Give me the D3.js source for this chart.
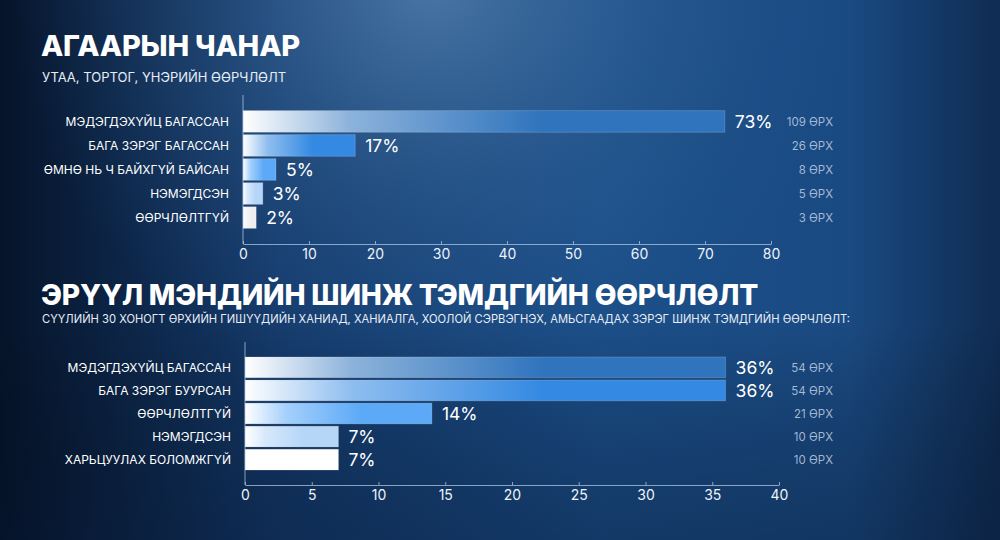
<!DOCTYPE html>
<html>
<head>
<meta charset="utf-8">
<script src="https://cdn.jsdelivr.net/npm/d3@7/dist/d3.min.js"></script>
<style>
  html, body { margin: 0; padding: 0; background: #0b2445; }
  svg { display: block; font-family: Inter, "Noto Sans", sans-serif; }
</style>
</head>
<body>
<svg id="chart" width="1000" height="540"></svg>
<script>
// ---- Data ----
const airTitle = "АГААРЫН ЧАНАР";
const airSubtitle = "УТАА, ТОРТОГ, ҮНЭРИЙН ӨӨРЧЛӨЛТ";
const airCategories = ["МЭДЭГДЭХҮЙЦ БАГАССАН", "БАГА ЗЭРЭГ БАГАССАН", "ӨМНӨ НЬ Ч БАЙХГҮЙ БАЙСАН", "НЭМЭГДСЭН", "ӨӨРЧЛӨЛТГҮЙ"];
const airValues = [73, 17, 5, 3, 2];
const airCounts = [109, 26, 8, 5, 3];
const airTicks = [0, 10, 20, 30, 40, 50, 60, 70, 80];

const healthTitle = "ЭРҮҮЛ МЭНДИЙН ШИНЖ ТЭМДГИЙН ӨӨРЧЛӨЛТ";
const healthSubtitle = "СҮҮЛИЙН 30 ХОНОГТ ӨРХИЙН ГИШҮҮДИЙН ХАНИАД, ХАНИАЛГА, ХООЛОЙ СЭРВЭГНЭХ, АМЬСГААДАХ ЗЭРЭГ ШИНЖ ТЭМДГИЙН ӨӨРЧЛӨЛТ:";
const healthCategories = ["МЭДЭГДЭХҮЙЦ БАГАССАН", "БАГА ЗЭРЭГ БУУРСАН", "ӨӨРЧЛӨЛТГҮЙ", "НЭМЭГДСЭН", "ХАРЬЦУУЛАХ БОЛОМЖГҮЙ"];
const healthValues = [36, 36, 14, 7, 7];
const healthCounts = [54, 54, 21, 10, 10];
const healthTicks = [0, 5, 10, 15, 20, 25, 30, 35, 40];

const countUnit = "ӨРХ";
const airColors = ["#2f74bd", "#3489e2", "#5caaf7", "#b6d6f8", "#eeeeee"];
const healthColors = ["#2f74bd", "#3489e2", "#5caaf7", "#b6d6f8", "#ffffff"];

// ---- Setup ----
const svg = d3.select("#chart");
const defs = svg.append("defs");

// background
const bgLin = defs.append("linearGradient").attr("id", "bgLin")
  .attr("x1", "0").attr("y1", "0").attr("x2", "1").attr("y2", "0");
bgLin.append("stop").attr("offset", "0").attr("stop-color", "#06142a");
bgLin.append("stop").attr("offset", "0.28").attr("stop-color", "#143a6b");
bgLin.append("stop").attr("offset", "0.6").attr("stop-color", "#1b4e88");
bgLin.append("stop").attr("offset", "0.85").attr("stop-color", "#1a4a82");
bgLin.append("stop").attr("offset", "1").attr("stop-color", "#0f2c52");

const bgRad = defs.append("radialGradient").attr("id", "bgRad")
  .attr("gradientUnits", "userSpaceOnUse")
  .attr("cx", 430).attr("cy", -20).attr("r", 420);
bgRad.append("stop").attr("offset", "0").attr("stop-color", "#5b87b4").attr("stop-opacity", 0.75);
bgRad.append("stop").attr("offset", "0.5").attr("stop-color", "#3d6da0").attr("stop-opacity", 0.35);
bgRad.append("stop").attr("offset", "1").attr("stop-color", "#2a5a90").attr("stop-opacity", 0);

const bgBot = defs.append("linearGradient").attr("id", "bgBot")
  .attr("x1", "0").attr("y1", "0").attr("x2", "0").attr("y2", "1");
bgBot.append("stop").attr("offset", "0.6").attr("stop-color", "#000").attr("stop-opacity", 0);
bgBot.append("stop").attr("offset", "1").attr("stop-color", "#04122a").attr("stop-opacity", 0.35);

svg.append("rect").attr("width", 1000).attr("height", 540).attr("fill", "url(#bgLin)");
svg.append("rect").attr("width", 1000).attr("height", 540).attr("fill", "url(#bgRad)");
svg.append("rect").attr("width", 1000).attr("height", 540).attr("fill", "url(#bgBot)");

function drawChart(cfg) {
  const g = svg.append("g");
  // title
  g.append("text").attr("x", 41).attr("y", cfg.titleY)
    .attr("fill", "#ffffff").attr("font-size", cfg.titleSize).attr("font-weight", 800)
    .attr("letter-spacing", "-0.2")
    .text(cfg.title);
  g.append("text").attr("x", 42).attr("y", cfg.subY)
    .attr("fill", "#e6edf6").attr("font-size", cfg.subSize).attr("font-weight", 400)
    .text(cfg.subtitle);

  const x = d3.scaleLinear().domain([0, cfg.max]).range(cfg.xRange);
  const y = d3.scaleBand().domain(cfg.categories).range(cfg.yRange)
    .paddingInner(0.1).paddingOuter(0.65);

  // gradients per bar
  cfg.categories.forEach((c, i) => {
    const mid = d3.interpolateRgb("#ffffff", cfg.colors[i])(0.55);
    const gr = defs.append("linearGradient").attr("id", cfg.id + "g" + i)
      .attr("x1", "0").attr("y1", "0").attr("x2", "1").attr("y2", "0");
    gr.append("stop").attr("offset", "0").attr("stop-color", "#ffffff");
    gr.append("stop").attr("offset", "0.22").attr("stop-color", mid);
    gr.append("stop").attr("offset", "0.62").attr("stop-color", cfg.colors[i]);
    gr.append("stop").attr("offset", "1").attr("stop-color", cfg.colors[i]);
  });

  // bars
  g.selectAll(".bar").data(cfg.values).enter().append("rect")
    .attr("x", x(0))
    .attr("y", (d, i) => y(cfg.categories[i]))
    .attr("width", d => x(d) - x(0))
    .attr("height", y.bandwidth())
    .attr("fill", (d, i) => `url(#${cfg.id}g${i})`)
    .attr("stroke", "rgba(255,255,255,0.18)")
    .attr("stroke-width", 1);

  // category labels
  g.selectAll(".cat").data(cfg.categories).enter().append("text")
    .attr("x", x(0) - 14)
    .attr("y", d => y(d) + y.bandwidth() / 2)
    .attr("dy", "0.36em")
    .attr("text-anchor", "end")
    .attr("fill", "#ffffff").attr("font-size", 12).attr("font-weight", 400)
    .text(d => d);

  // value labels
  g.selectAll(".val").data(cfg.values).enter().append("text")
    .attr("x", d => x(d) + 10)
    .attr("y", (d, i) => y(cfg.categories[i]) + y.bandwidth() / 2)
    .attr("dy", "0.36em")
    .attr("fill", "#ffffff").attr("font-size", 17.5).attr("font-weight", 400)
    .text(d => d + "%");

  // count labels
  g.selectAll(".cnt").data(cfg.counts).enter().append("text")
    .attr("x", 833)
    .attr("y", (d, i) => y(cfg.categories[i]) + y.bandwidth() / 2)
    .attr("dy", "0.36em")
    .attr("text-anchor", "end")
    .attr("fill", "rgba(205,218,236,0.78)").attr("font-size", 11.5).attr("font-weight", 400)
    .text(d => d + " " + countUnit);

  // vertical axis line
  g.append("line")
    .attr("x1", x(0)).attr("x2", x(0))
    .attr("y1", cfg.yRange[0]).attr("y2", cfg.yRange[1])
    .attr("stroke", "rgba(175,200,232,0.75)").attr("stroke-width", 1);

  // x axis
  const ax = g.append("g").attr("transform", `translate(0,${cfg.yRange[1]})`)
    .call(d3.axisBottom(x).tickValues(cfg.ticks).tickSizeInner(-3).tickSizeOuter(0).tickPadding(5));
  ax.select(".domain").attr("stroke", "rgba(175,200,232,0.75)");
  ax.selectAll(".tick line").attr("stroke", "rgba(175,200,232,0.75)");
  ax.selectAll(".tick text").attr("fill", "#eef3fa").attr("font-size", 14)
    .attr("font-family", "Inter, 'Noto Sans', sans-serif").attr("font-weight", 400);
}

drawChart({
  id: "air", title: airTitle, subtitle: airSubtitle,
  titleY: 56, titleSize: 29, subY: 82, subSize: 13,
  categories: airCategories, values: airValues, counts: airCounts, ticks: airTicks,
  colors: airColors, max: 80, xRange: [243, 771], yRange: [95, 244]
});

drawChart({
  id: "health", title: healthTitle, subtitle: healthSubtitle,
  titleY: 305, titleSize: 28.2, subY: 323, subSize: 11.2,
  categories: healthCategories, values: healthValues, counts: healthCounts, ticks: healthTicks,
  colors: healthColors, max: 40, xRange: [245, 779], yRange: [342, 485]
});
</script>
</body>
</html>
